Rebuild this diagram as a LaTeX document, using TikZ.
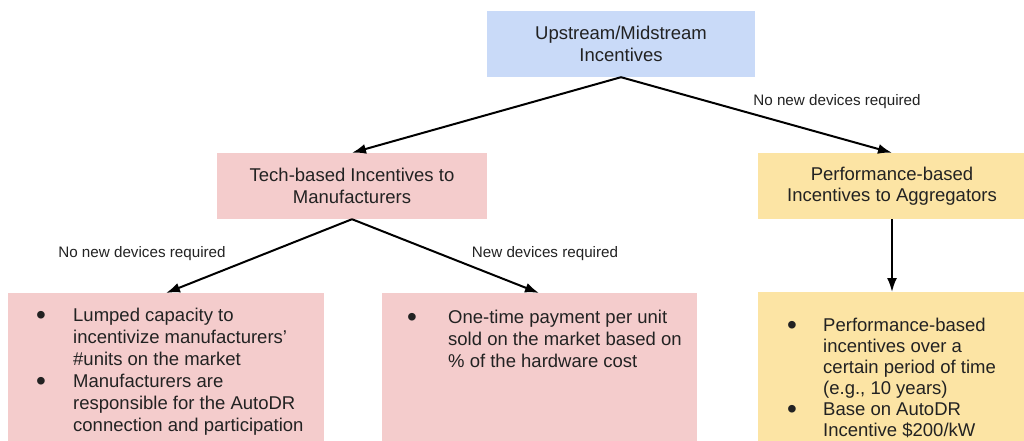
\documentclass[tikz,border=0pt]{standalone}
\usepackage{fontspec}
\setmainfont{Liberation Sans}
\usetikzlibrary{arrows.meta}
\definecolor{upblue}{HTML}{C9DAF8}
\definecolor{techpink}{HTML}{F4CCCC}
\definecolor{perfyellow}{HTML}{FCE4A4}
\definecolor{ink}{HTML}{222222}
\newcommand\listbullet{\raisebox{-3pt}{\fontsize{28}{22}\selectfont\textbullet}}

\begin{document}
\begin{tikzpicture}[x=1pt,y=-1pt,
    headbox/.style={rectangle,inner sep=0pt,minimum height=66pt,align=center,text=ink,
      font=\fontsize{18.5}{21.5}\selectfont},
    listbox/.style={rectangle,inner sep=0pt,minimum height=170pt,anchor=north},
    listtext/.style={inner sep=0pt,anchor=base west,text=ink,font=\fontsize{18.5}{22}\selectfont},
    edgelabel/.style={inner sep=0pt,text=ink,font=\fontsize{15.2}{18}\selectfont},
    link/.style={line width=2pt,-{Latex[length=14pt,width=10pt]}}]
\clip (0,0) rectangle (1024,441);
\fill[white] (0,0) rectangle (1024,441);

\node [headbox,fill=upblue,minimum width=268pt] (upmid) at (621,44) {Upstream/Midstream\\Incentives};
\node [headbox,fill=techpink,minimum width=270pt] (tech) at (352,186) {Tech-based Incentives to\\Manufacturers};
\node [headbox,fill=perfyellow,minimum width=268pt] (perf) at (892,186) {Performance-based\\Incentives to Aggregators};

\node [listbox,fill=techpink,minimum width=316pt] (lumped) at (166,293) {};
\node [listbox,fill=techpink,minimum width=315pt] (onetime) at (539,293) {};
\node [listbox,fill=perfyellow,minimum width=268pt] (perfinc) at (892,292) {};

\node [listtext] (lumpedtext) at (36,321) {\begin{tabular}[t]{@{}p{37pt}@{}l@{}}
\listbullet & Lumped capacity to\\
 & incentivize manufacturers'\\
 & \#units on the market\\
\listbullet & Manufacturers are\\
 & responsible for the AutoDR\\
 & connection and participation
\end{tabular}};
\node [listtext] (onetimetext) at (407,323) {\begin{tabular}[t]{@{}p{41pt}@{}l@{}}
\listbullet & One-time payment per unit\\
 & sold on the market based on\\
 & \% of the hardware cost
\end{tabular}};
\node [listtext,font=\fontsize{18.5}{21}\selectfont] (perfinctext) at (787,331) {\begin{tabular}[t]{@{}p{36pt}@{}l@{}}
\listbullet & Performance-based\\
 & incentives over a\\
 & certain period of time\\
 & (e.g., 10 years)\\
\listbullet & Base on AutoDR\\
 & Incentive \$200/kW
\end{tabular}};

\node [edgelabel] (nonewright) at (837,102) {No new devices required};
\node [edgelabel] (nonewleft) at (142,254) {No new devices required};
\node [edgelabel] (newdev) at (545,254) {New devices required};

\draw [link] (upmid.south) -- (tech.north);
\draw [link] (upmid.south) -- (perf.north);
\draw [link] (tech.south) -- (lumped.north);
\draw [link] (tech.south) -- (onetime.north);
\draw [link] (perf.south) -- (perfinc.north);
\end{tikzpicture}
\end{document}
